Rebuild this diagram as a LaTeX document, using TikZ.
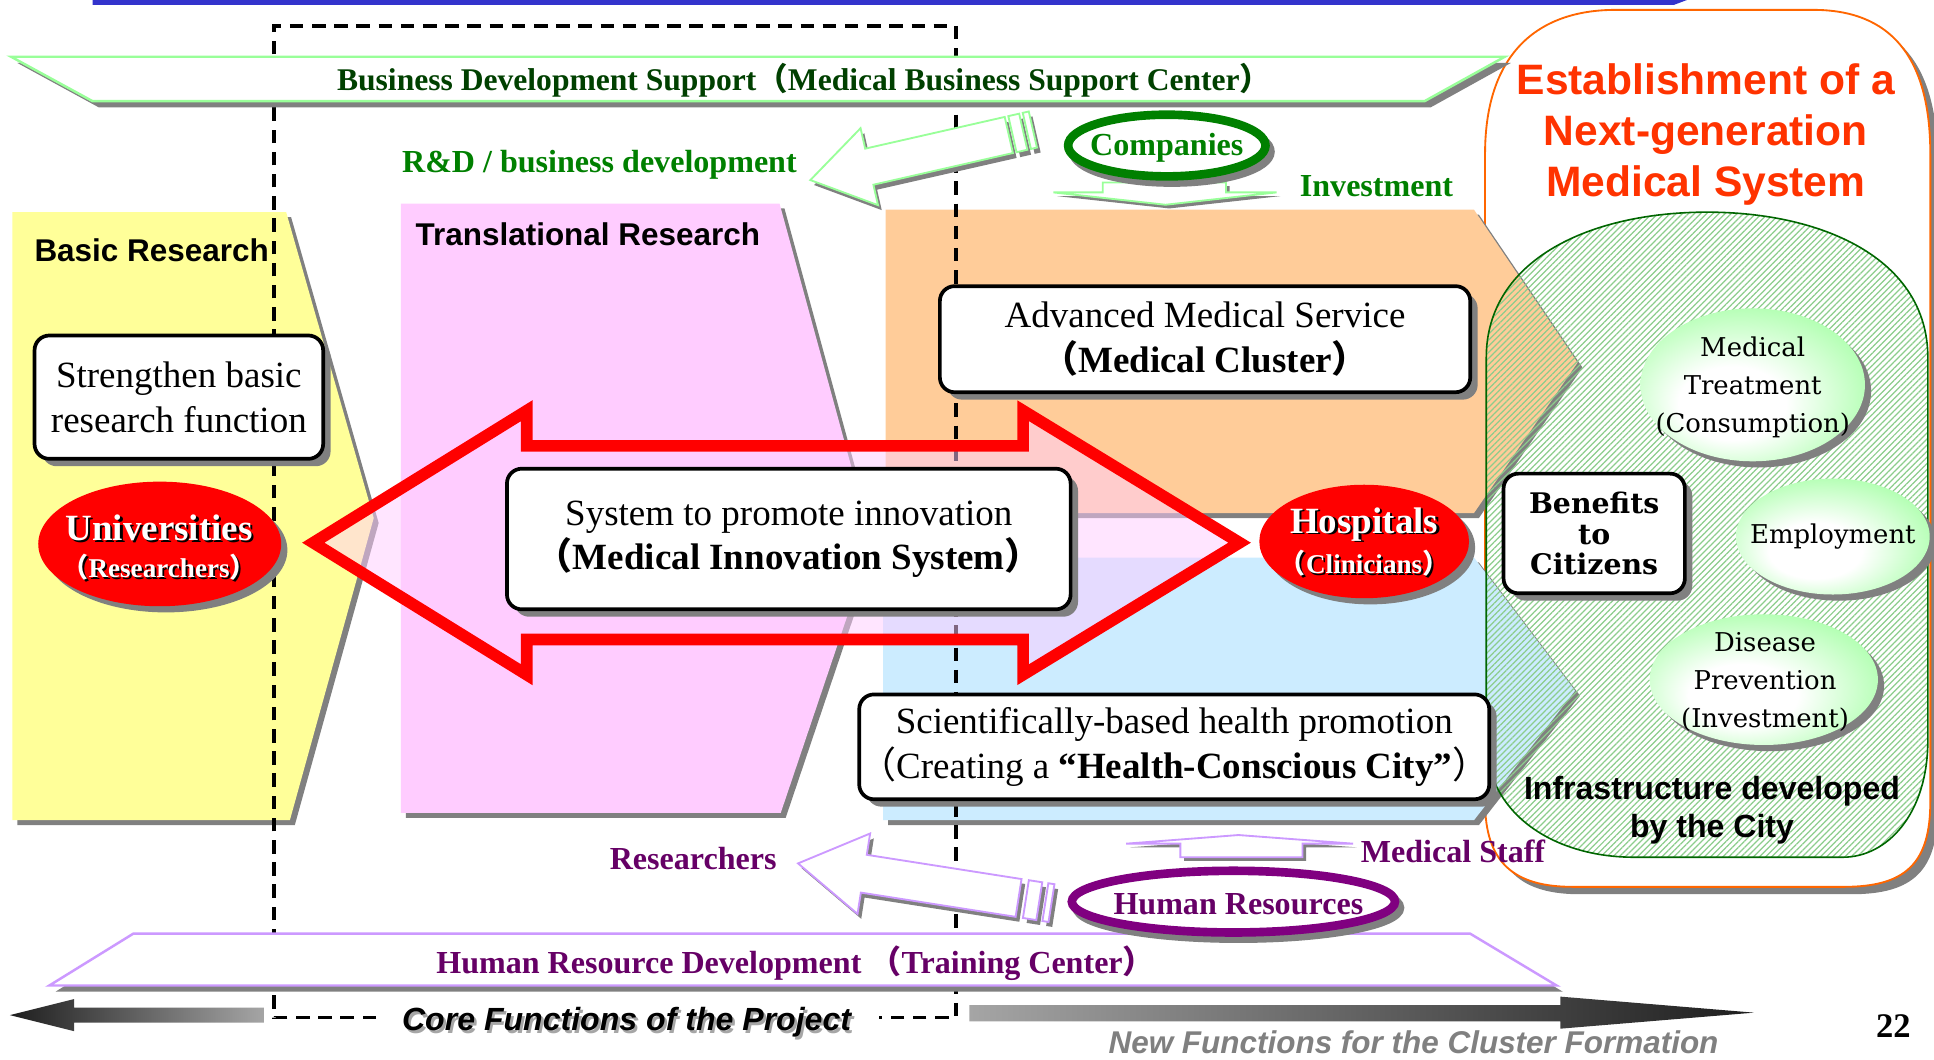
\documentclass[tikz,border=0pt]{standalone}
\usepackage{fontspec}
\setmainfont{Liberation Serif}
\setsansfont{Liberation Sans}
\newfontfamily\dvs{DejaVu Serif}
\newfontfamily\cjk{Noto Sans CJK JP}
\usetikzlibrary{shapes.geometric,shadows,patterns.meta}
\definecolor{topblue}{RGB}{51,51,204}
\definecolor{shgray}{RGB}{128,128,128}
\definecolor{yellowp}{RGB}{255,255,153}
\definecolor{pinkp}{RGB}{255,204,255}
\definecolor{orangep}{RGB}{255,204,153}
\definecolor{bluep}{RGB}{204,236,255}
\definecolor{lgreenb}{RGB}{153,255,153}
\definecolor{lpurpleb}{RGB}{204,153,255}
\definecolor{dgreent}{RGB}{0,64,0}
\definecolor{greent}{RGB}{0,128,0}
\definecolor{purplet}{RGB}{102,0,102}
\definecolor{hrpurple}{RGB}{128,0,128}
\definecolor{titleorange}{RGB}{255,51,0}
\definecolor{orangeb}{RGB}{255,102,0}
\definecolor{greenb}{RGB}{0,102,0}
\definecolor{hatchg}{RGB}{140,205,140}
\definecolor{ellgreen}{RGB}{150,255,150}
\definecolor{darkarrow}{RGB}{30,30,30}
\definecolor{lightarrow}{RGB}{165,165,165}
\definecolor{newgray}{RGB}{128,128,128}
\definecolor{pinkfill}{RGB}{255,204,255}
\pgfdeclareradialshading{gball}{\pgfpoint{-6bp}{-8bp}}{color(0bp)=(white); color(12bp)=(white); color(36bp)=(ellgreen); color(50bp)=(ellgreen)}
\newcommand\fsz[2]{\fontsize{#1}{#2}\selectfont}
\newcommand\zlp{{\cjk （}}
\newcommand\zrp{{\cjk ）}}
\newcommand\shd[3][5]{\path[fill=shgray,shift={(#1,#1)}] #3; \path[#2] #3;}
\begin{document}
\begin{tikzpicture}[x=1pt,y=-1pt,
 lbl/.style={inner sep=0pt, outer sep=0pt, align=center},
 dshadow/.style={drop shadow={shadow xshift=5pt,shadow yshift=-5pt,fill=shgray,opacity=1}},
 bshadow/.style={drop shadow={shadow xshift=6pt,shadow yshift=-6pt,fill=shgray,opacity=1}},
 ringshadow/.style={drop shadow={shadow xshift=4pt,shadow yshift=-5pt,fill=shgray,draw=shgray,line width=7pt,opacity=1}},
 wbox/.style={rectangle, draw=black, line width=3pt, fill=white, rounded corners=12pt, bshadow, inner sep=0pt, align=center},
 redell/.style={ellipse, fill=red, draw=none, dshadow, inner sep=0pt},
 greenell/.style={ellipse, shade, shading=gball, draw=none, dshadow, inner sep=0pt},
 ringell/.style={ellipse, fill=white, line width=7pt, ringshadow, inner sep=0pt},
 harrow/.style={fill=white, line width=1.5pt},
 gl/.style={lbl, text=greent, font=\bfseries\fsz{26}{30}},
 pl/.style={lbl, text=purplet, font=\bfseries\fsz{26}{30}},
]
\fill[white] (0,0) rectangle (1568,859);
\useasboundingbox (0,0) rectangle (1568,859);

% top blue bar
\fill[topblue] (75,-2) -- (1373,-2) -- (1357,4) -- (75,4) -- cycle;

% big orange frame
\shd[6]{fill=white, draw=orangeb, line width=1.5pt}{(1204,125) .. controls (1204,45) and (1245,8) .. (1310,8) -- (1470,8) .. controls (1532,8) and (1565,45) .. (1565,125) -- (1565,650) .. controls (1565,700) and (1545,719) .. (1495,719) -- (1275,719) .. controls (1228,719) and (1204,700) .. (1204,650) -- cycle}
\node[lbl, text=titleorange, font=\sffamily\bfseries\fsz{34.5}{41.5}] (title) at (1383,109) {Establishment of a\\Next-generation\\Medical System};

% panels
\shd[4]{fill=yellowp}{(10,172) -- (232,172) -- (303,420) -- (235,665) -- (10,665) -- cycle}
\shd[4]{fill=pinkp}{(325,165) -- (632,165) -- (707,440) -- (633,659) -- (325,659) -- cycle}
\shd[4]{fill=orangep}{(718,170) -- (1195,170) -- (1279,294) -- (1195,416) -- (718,416) -- cycle}
\shd[4]{fill=bluep}{(716,452) -- (1195,452) -- (1277,560) -- (1195,665) -- (716,665) -- cycle}

% green hatched infrastructure region
\path[pattern={Lines[angle=45,distance=3.5pt,line width=1pt]}, pattern color=hatchg] (1205,290) .. controls (1205,210) and (1290,172) .. (1384,172) .. controls (1478,172) and (1563,210) .. (1563,290) -- (1563,600) .. controls (1563,660) and (1530,695) .. (1494,695) -- (1325,695) .. controls (1260,695) and (1205,660) .. (1205,600) -- cycle;
\draw[greenb, line width=1.3pt] (1205,290) .. controls (1205,210) and (1290,172) .. (1384,172) .. controls (1478,172) and (1563,210) .. (1563,290) -- (1563,600) .. controls (1563,660) and (1530,695) .. (1494,695) -- (1325,695) .. controls (1260,695) and (1205,660) .. (1205,600) -- cycle;

% dashed frame of core functions
\draw[black, line width=3pt, dash pattern=on 11pt off 7pt] (305,825) -- (222,825) -- (222,21) -- (775,21) -- (775,825) -- (713,825);

% red double arrow
\draw[red, line width=9.5pt, fill=pinkfill, fill opacity=0.5, line join=miter] (254,440) -- (427,333) -- (427,361.5) -- (829.5,361.5) -- (829.5,333) -- (1005,440) -- (829.5,547) -- (829.5,518.5) -- (427,518.5) -- (427,547) -- cycle;

% bands
\shd[5]{fill=white, draw=lgreenb, line width=2pt}{(9,46) -- (1220,46) -- (1155,82) -- (75,82) -- cycle}
\node[lbl, text=dgreent, font=\bfseries\fsz{25.6}{30}] (bds) at (652,65) {Business Development Support\zlp Medical Business Support Center\zrp};
\shd[5]{fill=white, draw=lpurpleb, line width=2pt}{(108,757) -- (1192,757) -- (1262,799) -- (40,799) -- cycle}
\node[pl] (hrd) at (645,781) {Human Resource Development \zlp Training Center\zrp};

% green hollow arrow (Companies -> R&D)
\begin{scope}[shift={(660,150)}, rotate=12.8]
 \fill[shgray] (0,0) -- (49,-32) -- (49,-15) -- (165,-15) -- (165,15) -- (49,15) -- (49,32) -- cycle;
 \fill[shgray] (168,-15) rectangle (177,15);
 \fill[shgray] (180,-15) rectangle (185,15);
\end{scope}
\begin{scope}[shift={(657,146)}, rotate=12.8]
 \path[harrow, draw=lgreenb] (0,0) -- (49,-32) -- (49,-15) -- (165,-15) -- (165,15) -- (49,15) -- (49,32) -- cycle;
 \path[harrow, draw=lgreenb] (168,-15) rectangle (177,15);
 \path[harrow, draw=lgreenb] (180,-15) rectangle (185,15);
\end{scope}
% purple hollow arrow (Human Resources -> Researchers)
\begin{scope}[shift={(650,704)}, rotate=-8.9]
 \fill[shgray] (0,0) -- (54,-33) -- (54,-15.5) -- (181,-15.5) -- (181,15.5) -- (54,15.5) -- (54,33) -- cycle;
 \fill[shgray] (187,-15.5) rectangle (198,15.5);
 \fill[shgray] (203,-15.5) rectangle (208,15.5);
\end{scope}
\begin{scope}[shift={(647,700)}, rotate=-8.9]
 \path[harrow, draw=lpurpleb] (0,0) -- (54,-33) -- (54,-15.5) -- (181,-15.5) -- (181,15.5) -- (54,15.5) -- (54,33) -- cycle;
 \path[harrow, draw=lpurpleb] (187,-15.5) rectangle (198,15.5);
 \path[harrow, draw=lpurpleb] (203,-15.5) rectangle (208,15.5);
\end{scope}
% flat arrows
\shd[3]{fill=white, draw=lgreenb, line width=1.5pt}{(894,148) -- (994,148) -- (994,156) -- (1035,156) -- (945,166) -- (854,156) -- (894,156) -- cycle}
\shd[3]{fill=white, draw=lpurpleb, line width=1.5pt}{(957,695) -- (957,684) -- (913,684) -- (1004,677) -- (1097,684) -- (1056,684) -- (1056,695) -- cycle}

% boxes
\node[wbox, minimum width=234pt, minimum height=100pt, font=\fsz{30}{37}] (strengthen) at (145,322) {Strengthen basic\\research function};
\node[wbox, minimum width=457pt, minimum height=114pt, font=\fsz{30}{36}] (system) at (639.5,437) {System to promote innovation\\\bfseries\zlp Medical Innovation System\zrp};
\node[wbox, minimum width=430pt, minimum height=86pt, font=\fsz{30}{36}] (advanced) at (977,275) {Advanced Medical Service\\\bfseries\zlp Medical Cluster\zrp};
\node[wbox, minimum width=506pt, minimum height=85pt, font=\fsz{30}{36}] (health) at (952,605.5) {Scientifically-based health promotion\\\zlp Creating a \textbf{“Health-Conscious City”}\zrp};
\node[wbox, minimum width=147pt, minimum height=97pt, font=\dvs\bfseries\fsz{23}{25}] (benefits) at (1292.5,432.5) {Benefits\\to\\Citizens};

% red ellipses
\node[redell, minimum width=197pt, minimum height=101pt] (univ) at (129.5,441) {};
\node[lbl, text=black, font=\bfseries\fsz{30}{32}] at (130.8,429.3) {Universities};
\node[lbl, text=white, font=\bfseries\fsz{30}{32}] (univt) at (129,428) {Universities};
\node[lbl, text=black, font=\bfseries\fsz{22}{26}] at (130.5,461.5) {\zlp Researchers\zrp};
\node[lbl, text=white, font=\bfseries\fsz{22}{26}] (univr) at (129,460) {\zlp Researchers\zrp};
\node[redell, minimum width=170pt, minimum height=92pt] (hosp) at (1106,439) {};
\node[lbl, text=black, font=\bfseries\fsz{30}{32}] at (1107.8,426.3) {Hospitals};
\node[lbl, text=white, font=\bfseries\fsz{30}{32}] (hospt) at (1106,425) {Hospitals};
\node[lbl, text=black, font=\bfseries\fsz{22}{26}] at (1107.5,458.5) {\zlp Clinicians\zrp};
\node[lbl, text=white, font=\bfseries\fsz{22}{26}] (hospc) at (1106,457) {\zlp Clinicians\zrp};

% ring ellipses
\node[ringell, draw=greent, minimum width=160pt, minimum height=50pt] (comp) at (946,118) {};
\node[gl] (compt) at (946,120) {Companies};
\node[ringell, draw=hrpurple, minimum width=262pt, minimum height=50pt] (hr) at (1000,731) {};
\node[pl] (hrt) at (1004,733) {Human Resources};

% green benefit ellipses
\node[greenell, minimum width=182pt, minimum height=124pt] (treat) at (1421,312) {};
\node[lbl, font=\dvs\fsz{21}{31}] (treatt) at (1421,314) {Medical\\Treatment\\(Consumption)};
\node[greenell, minimum width=157pt, minimum height=94pt] (employ) at (1486,435) {};
\node[lbl, font=\dvs\fsz{21}{25}] (employt) at (1486,435) {Employment};
\node[greenell, minimum width=185pt, minimum height=106pt] (prev) at (1430,551) {};
\node[lbl, font=\dvs\fsz{21}{31}] (prevt) at (1431,553) {Disease\\Prevention\\(Investment)};

% labels
\node[lbl, font=\sffamily\bfseries\fsz{25.5}{30}, anchor=west] (basic) at (28,203) {Basic Research};
\node[lbl, font=\sffamily\bfseries\fsz{25.5}{30}, anchor=west] (trans) at (337,190) {Translational Research};
\node[lbl, font=\sffamily\bfseries\fsz{26}{31}] (infra) at (1388,657) {Infrastructure developed\\by the City};
\node[gl] (rnd) at (486,134) {R\&D / business development};
\node[gl] (inv) at (1116,151) {Investment};
\node[pl] (res) at (562,696) {Researchers};
\node[pl] (mstaff) at (1178,690) {Medical Staff};

% bottom arrows
\shade[left color=darkarrow, right color=lightarrow] (8,823) -- (60,810) -- (60,817) -- (214,817) -- (214,829) -- (60,829) -- (60,836) -- cycle;
\shade[left color=lightarrow, right color=darkarrow] (786,815) -- (1265,815) -- (1265,808) -- (1422,821) -- (1265,834) -- (1265,828) -- (786,828) -- cycle;
\node[lbl, text=shgray!70, font=\sffamily\bfseries\itshape\fsz{26}{30}] at (510,831) {Core Functions of the Project};
\node[lbl, text=black, font=\sffamily\bfseries\itshape\fsz{26}{30}] (core) at (508,829) {Core Functions of the Project};
\node[lbl, text=newgray, font=\sffamily\bfseries\itshape\fsz{25.5}{30}] (newf) at (1146,845) {New Functions for the Cluster Formation};
\node[lbl, font=\bfseries\fsz{28}{30}] (pnum) at (1535,832) {22};
\end{tikzpicture}
\end{document}
